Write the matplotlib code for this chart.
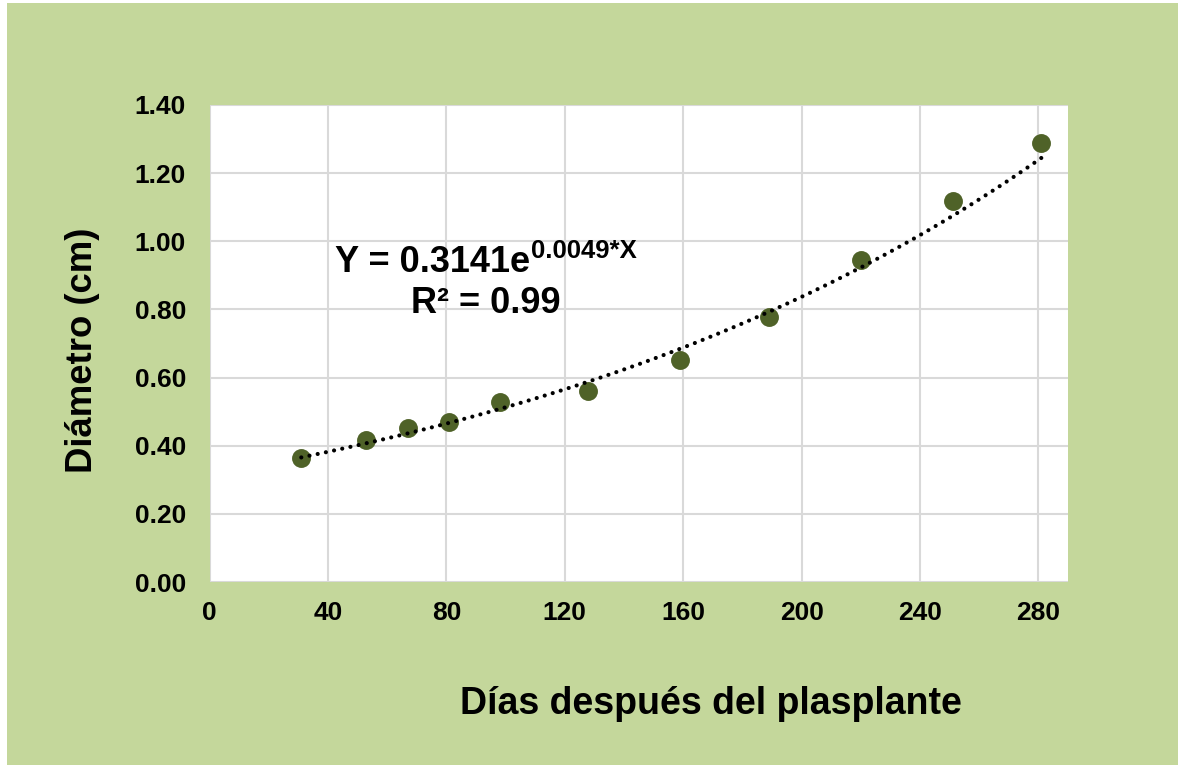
import numpy as np
import matplotlib
matplotlib.use("Agg")
import matplotlib.pyplot as plt
from matplotlib.patches import Rectangle

# Data
dias = [31, 53, 67, 81, 98, 128, 159, 189, 220, 251, 281]
diametro = [0.364, 0.417, 0.452, 0.470, 0.528, 0.561, 0.652, 0.778, 0.945, 1.118, 1.289]
x_ticks = [0, 40, 80, 120, 160, 200, 240, 280]
y_ticks = [0.00, 0.20, 0.40, 0.60, 0.80, 1.00, 1.20, 1.40]
trend_a = 0.3141
trend_b = 0.0049

plt.rcParams['font.family'] = ['Liberation Sans', 'DejaVu Sans']

W, H = 1178, 765
bg = '#C4D79B'
pt_color = '#4F6228'

fig = plt.figure(figsize=(W / 100, H / 100), dpi=100, facecolor='white')
fig.patches.append(Rectangle((7 / W, 0), 1 - 7 / W, 1 - 3 / H,
                             transform=fig.transFigure, facecolor=bg,
                             edgecolor='none', zorder=-10))

ax = fig.add_axes([209.5 / W, 1 - 582 / H, (1068 - 209.5) / W, (582 - 105) / H])
ax.set_facecolor('white')
ax.set_xlim(0, 290)
ax.set_ylim(0, 1.40)
for s in ax.spines.values():
    s.set_visible(False)
ax.set_xticks(x_ticks)
ax.set_yticks(y_ticks)
ax.set_xticklabels([str(v) for v in x_ticks], fontsize=19, fontweight='bold')
ax.set_yticklabels([f"{v:.2f}" for v in y_ticks], fontsize=19, fontweight='bold')
ax.tick_params(length=0)
ax.tick_params(axis='y', pad=17)
ax.tick_params(axis='x', pad=14)
ax.grid(True, color='#D9D9D9', linewidth=1.5)
ax.set_axisbelow(True)

ax.scatter(dias, diametro, s=185, color=pt_color, zorder=3, linewidths=0)

xt = np.linspace(min(dias), max(dias), 200)
ax.plot(xt, trend_a * np.exp(trend_b * xt), color='black', linewidth=3.0,
        linestyle=(0, (0.01, 2.0)), dash_capstyle='round', zorder=4)

fig.text(711 / W, 1 - 704 / H, 'Días después del plasplante', fontsize=27,
         fontweight='bold', ha='center', va='center')
fig.text(82 / W, 1 - 350 / H, 'Diámetro (cm)', fontsize=26.3,
         fontweight='bold', ha='center', va='center', rotation=90)

main = fig.text(335 / W, 1 - 272 / H, 'Y = 0.3141e', fontsize=26,
                fontweight='bold', ha='left', va='baseline')
fig.canvas.draw()
bb = main.get_window_extent()
fig.text(bb.x1 / W + 1 / W, 1 - 258 / H, '0.0049*X', fontsize=18.5,
         fontweight='bold', ha='left', va='baseline')
fig.text(486 / W, 1 - 313 / H, 'R² = 0.99', fontsize=26,
         fontweight='bold', ha='center', va='baseline')

fig.savefig('out.png', dpi=100, facecolor=fig.get_facecolor())
